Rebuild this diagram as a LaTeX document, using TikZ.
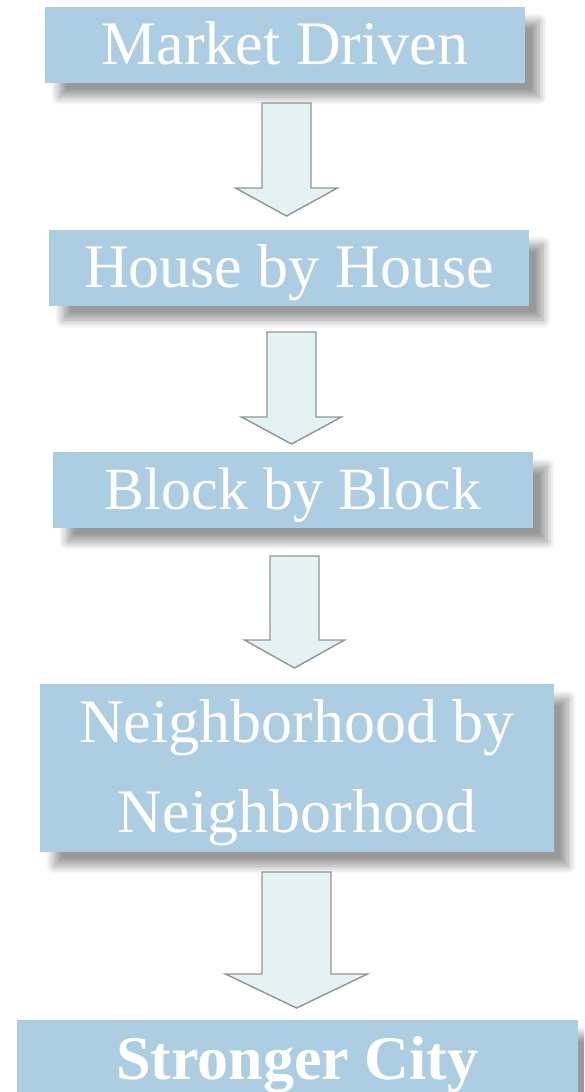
\documentclass[tikz,border=0pt]{standalone}
\usepackage{fontspec}
\setmainfont{Liberation Serif}
\usetikzlibrary{shadows.blur}
\definecolor{boxblue}{HTML}{ADCDE3}
\definecolor{arrowfill}{HTML}{E4F2F3}
\definecolor{arrowline}{HTML}{929494}
\tikzset{
  stepbox/.style={rectangle, fill=boxblue, inner sep=0pt, text=white,
    font=\fontsize{62}{90}\selectfont, text height=42pt, text depth=3pt,
    blur shadow={shadow xshift=14pt, shadow yshift=-14pt, shadow blur radius=8pt, shadow blur steps=12, shadow opacity=40}},
  arrowshape/.style={draw=arrowline, fill=arrowfill, line width=1.4pt, line join=miter},
  pics/downarrow/.style args={#1/#2/#3/#4}{code={
    \draw[arrowshape] (-#1,0) -- (#1,0) -- (#1,#3) -- (#2,#3) -- (0,#4) -- (-#2,#3) -- (-#1,#3) -- cycle;
  }}
}
\begin{document}
\begin{tikzpicture}[x=1pt,y=-1pt]
\useasboundingbox (0,0) rectangle (584,1092);
\clip (0,0) rectangle (584,1092);
\node[stepbox, minimum width=480pt, minimum height=76pt] (b1) at (285,45) {Market Driven};
\node[stepbox, minimum width=480pt, minimum height=76pt] (b2) at (289,268) {House by House};
\node[stepbox, minimum width=480pt, minimum height=76pt, font=\fontsize{60}{90}\selectfont] (b3) at (293,490) {Block by Block};
\node[stepbox, minimum width=514pt, minimum height=168pt, align=center, text height=131pt, text depth=3pt] (b4) at (297,768) {Neighborhood by\\Neighborhood};
\node[stepbox, minimum width=561pt, minimum height=80pt, font=\fontsize{62}{90}\selectfont\bfseries] (b5) at (297.5,1060) {Stronger City};
\pic at (286.5,103) {downarrow={24.5/51/85/113}};
\pic at (291.5,332) {downarrow={24.5/50/85/112}};
\pic at (294.5,556) {downarrow={24.5/50/84/112}};
\pic at (296.5,872) {downarrow={34.5/71/102/136}};
\end{tikzpicture}
\end{document}
